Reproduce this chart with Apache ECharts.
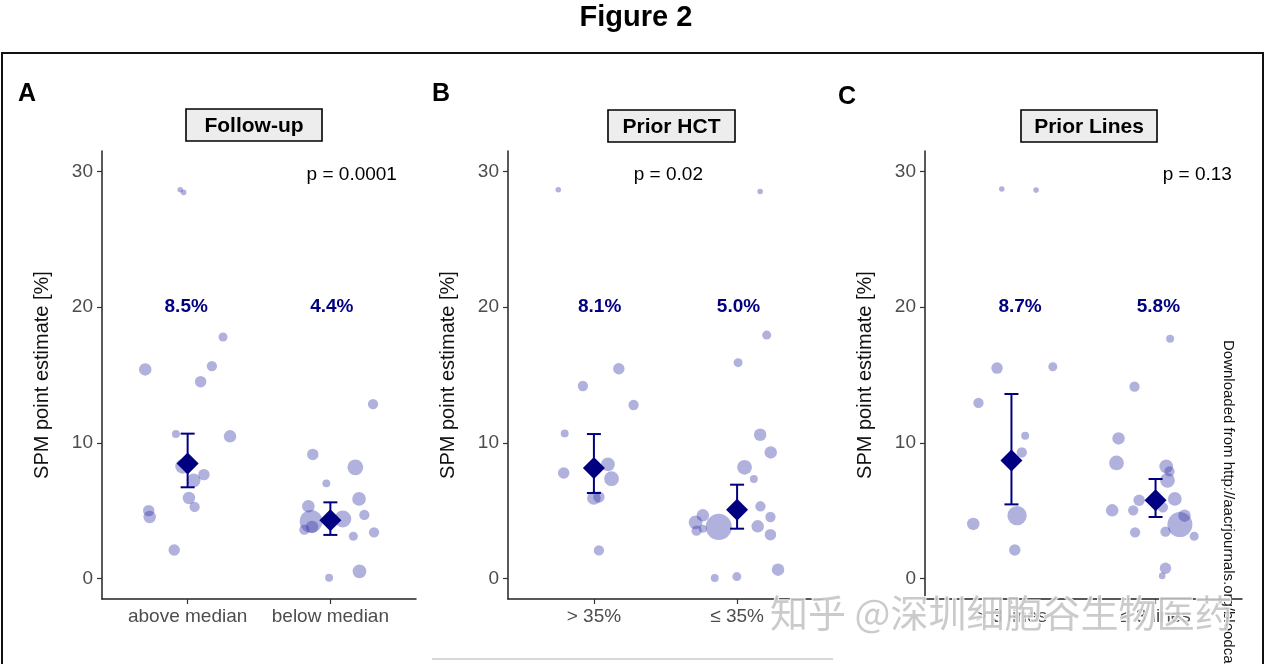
<!DOCTYPE html>
<html>
<head>
<meta charset="utf-8">
<script src="https://cdn.jsdelivr.net/npm/echarts@6/dist/echarts.min.js"></script>
<style>html,body{margin:0;padding:0;background:#fff;}#c{width:1272px;height:664px;}</style>
</head>
<body>
<div id="c"></div>
<script>
// ---------- data ----------
const catsA = ['above median', 'below median'];
const catsB = ['> 35%', '\u2264 35%'];
const catsC = ['> 3 lines', '\u2264 3 lines'];
const yTicks = [0, 10, 20, 30];

// points: [jittered x position, SPM estimate %, weight n]
const ptsA1 = [[0.948,28.64,5],[0.972,28.45,5],[0.703,15.41,25],[1.248,17.80,13],[1.170,15.66,17],[1.091,14.51,21],[0.918,10.65,10],[1.297,10.48,25],[0.965,8.27,35],[1.042,7.24,30],[1.114,7.66,21],[1.009,5.94,25],[1.049,5.28,17],[0.727,5.01,21],[0.734,4.54,25],[0.906,2.11,21]];
const ptsA2 = [[1.877,9.15,21],[2.175,8.20,40],[2.299,12.86,17],[1.972,7.02,10],[2.201,5.87,30],[1.846,5.33,25],[2.238,4.69,17],[1.865,4.22,83],[2.087,4.40,46],[1.818,3.61,17],[1.872,3.81,25],[2.306,3.41,17],[2.161,3.12,13],[2.204,0.54,30],[1.991,0.07,10]];
const ptsB1 = [[0.751,28.64,5],[1.174,15.46,21],[0.923,14.19,17],[1.277,12.79,17],[0.796,10.70,10],[1.098,8.42,30],[0.789,7.78,21],[1.123,7.36,35],[1.000,5.94,30],[1.035,6.01,21],[1.035,2.08,17]];
const ptsB2 = [[2.161,28.52,5],[2.207,17.94,13],[2.007,15.91,13],[2.161,10.60,25],[2.235,9.30,25],[2.052,8.20,35],[2.117,7.34,10],[2.163,5.33,17],[2.233,4.54,17],[2.144,3.85,25],[2.233,3.24,21],[1.761,4.66,25],[1.710,4.15,30],[1.717,3.53,17],[1.761,3.68,10],[1.872,3.81,109],[2.286,0.66,25],[1.844,0.05,10],[1.998,0.15,13]];
const ptsC1 = [[0.933,28.70,5],[1.171,28.62,5],[0.900,15.51,21],[1.287,15.61,13],[0.771,12.94,17],[1.095,10.53,10],[1.072,9.30,17],[1.039,4.64,60],[0.735,4.03,25],[1.023,2.11,21]];
const ptsC2 = [[2.101,17.67,10],[1.854,14.14,17],[1.743,10.33,25],[1.729,8.52,35],[2.074,8.27,30],[2.097,7.90,17],[2.083,7.24,35],[2.134,5.87,30],[1.886,5.77,21],[1.699,5.03,25],[1.845,5.03,17],[2.051,5.25,17],[2.201,4.64,25],[2.169,3.98,100],[1.858,3.41,17],[2.069,3.46,17],[2.268,3.12,13],[2.069,0.76,21],[2.046,0.20,7]];

// pooled estimates with confidence intervals
const meanA = [8.49, 4.30], loA = [6.73, 3.22], hiA = [10.68, 5.62];
const meanB = [8.15, 5.08], loB = [6.31, 3.68], hiB = [10.65, 6.92];
const meanC = [8.71, 5.77], loC = [5.47, 4.54], hiC = [13.60, 7.34];

const pctA = ['8.5%', '4.4%'], pctXA = [0.99, 2.01];
const pctB = ['8.1%', '5.0%'], pctXB = [1.04, 2.01];
const pctC = ['8.7%', '5.8%'], pctXC = [1.06, 2.02];
const pctY = 20;

const pA = 'p = 0.0001', pXA = 2.15;
const pB = 'p = 0.02', pXB = 1.52;
const pC = 'p = 0.13', pXC = 2.29;
const pY = 29.75;

const titles = ['Follow-up', 'Prior HCT', 'Prior Lines'];
const letters = ['A', 'B', 'C'];

// ---------- chart ----------
const FONT = '"Liberation Sans", Arial, sans-serif';
const NAVY = '#000080';
const PT = 'rgba(50,50,165,0.38)';

const panels = [
  {cats: catsA, pts: ptsA1.concat(ptsA2), mean: meanA, lo: loA, hi: hiA, pct: pctA, pctX: pctXA, p: pA, pX: pXA},
  {cats: catsB, pts: ptsB1.concat(ptsB2), mean: meanB, lo: loB, hi: hiB, pct: pctB, pctX: pctXB, p: pB, pX: pXB},
  {cats: catsC, pts: ptsC1.concat(ptsC2), mean: meanC, lo: loC, hi: hiC, pct: pctC, pctX: pctXC, p: pC, pX: pXC}
];
const gridPos = [
  {left: 102, top: 151, width: 314, height: 448},
  {left: 508, top: 151, width: 315, height: 448},
  {left: 925, top: 151, width: 317, height: 448}
];

const grids = [], xAxes = [], yAxes = [], series = [];
panels.forEach((P, i) => {
  grids.push(Object.assign({containLabel: false}, gridPos[i]));
  xAxes.push({
    type: 'value', gridIndex: i, min: 0.4, max: 2.6,
    splitLine: {show: false},
    axisLine: {show: true, onZero: false, lineStyle: {color: '#222', width: 1.5}},
    axisTick: {show: true, customValues: [1, 2], length: 5, lineStyle: {color: '#333', width: 1.2}},
    axisLabel: {customValues: [1, 2], formatter: v => P.cats[Math.round(v) - 1], color: '#4d4d4d', fontSize: 19, fontFamily: FONT, margin: 8}
  });
  yAxes.push({
    type: 'value', gridIndex: i, min: -1.5, max: 31.5,
    splitLine: {show: false},
    axisLine: {show: true, onZero: false, lineStyle: {color: '#222', width: 1.5}},
    axisTick: {show: true, customValues: yTicks, length: 5, lineStyle: {color: '#333', width: 1.2}},
    axisLabel: {customValues: yTicks, color: '#4d4d4d', fontSize: 19, fontFamily: FONT, margin: 9},
    name: 'SPM point estimate [%]', nameLocation: 'middle', nameGap: 50,
    nameTextStyle: {color: '#111', fontSize: 20, fontFamily: FONT}
  });
  series.push({
    type: 'scatter', xAxisIndex: i, yAxisIndex: i, silent: true,
    data: P.pts,
    symbolSize: v => 2.5 * Math.sqrt(v[2]),
    itemStyle: {color: PT, borderWidth: 0, opacity: 1},
    z: 2
  });
  series.push({
    type: 'custom', xAxisIndex: i, yAxisIndex: i, silent: true, z: 3,
    data: P.mean.map((m, k) => [k + 1, P.lo[k], P.hi[k]]),
    renderItem: (params, api) => {
      const top = api.coord([api.value(0), api.value(2)]);
      const bot = api.coord([api.value(0), api.value(1)]);
      const hw = 7;
      const st = {stroke: NAVY, lineWidth: 2};
      return {type: 'group', children: [
        {type: 'line', shape: {x1: top[0], y1: top[1], x2: bot[0], y2: bot[1]}, style: st},
        {type: 'line', shape: {x1: top[0] - hw, y1: top[1], x2: top[0] + hw, y2: top[1]}, style: st},
        {type: 'line', shape: {x1: bot[0] - hw, y1: bot[1], x2: bot[0] + hw, y2: bot[1]}, style: st}
      ]};
    }
  });
  series.push({
    type: 'scatter', xAxisIndex: i, yAxisIndex: i, silent: true, z: 4,
    data: P.mean.map((m, k) => [k + 1, m]),
    symbol: 'diamond', symbolSize: 22,
    itemStyle: {color: NAVY, opacity: 1}
  });
  series.push({
    type: 'scatter', xAxisIndex: i, yAxisIndex: i, silent: true, z: 5,
    data: P.pct.map((t, k) => ({value: [P.pctX[k], pctY], name: t})),
    symbolSize: 1, itemStyle: {color: 'rgba(0,0,0,0)', opacity: 1},
    label: {show: true, position: 'inside', formatter: p => p.name, color: NAVY, fontWeight: 'bold', fontSize: 19, fontFamily: FONT, opacity: 1}
  });
  series.push({
    type: 'scatter', xAxisIndex: i, yAxisIndex: i, silent: true, z: 5,
    data: [{value: [P.pX, pY], name: P.p}],
    symbolSize: 1, itemStyle: {color: 'rgba(0,0,0,0)', opacity: 1},
    label: {show: true, position: 'inside', formatter: p => p.name, color: '#000', fontSize: 19, fontFamily: FONT, opacity: 1}
  });
});

// decorations
const boxPos = [[186, 109, 136], [608, 110, 127], [1021, 110, 136]];
const letterPos = [[18, 94], [432, 94], [838, 97]];
const graphic = [
  {type: 'text', left: 'center', top: 3, style: {text: 'Figure 2', font: 'bold 29px ' + FONT, fill: '#000'}},
  {type: 'rect', shape: {x: 2, y: 53, width: 1261, height: 640}, style: {fill: 'none', stroke: '#111', lineWidth: 2}, z: 10},
  {type: 'line', shape: {x1: 432, y1: 659, x2: 833, y2: 659}, style: {stroke: '#b0b0b0', lineWidth: 1}},
  {type: 'text', x: 1228, y: 340, rotation: -Math.PI / 2, style: {text: 'Downloaded from http://aacrjournals.org/bloodcancerdiscov/article-pdf/', font: '15px ' + FONT, fill: '#111', textAlign: 'left', textVerticalAlign: 'middle'}, z: 20}
];
titles.forEach((t, i) => {
  const b = boxPos[i];
  graphic.push({type: 'rect', shape: {x: b[0], y: b[1], width: b[2], height: 32}, style: {fill: '#ededed', stroke: '#000', lineWidth: 1.6}});
  graphic.push({type: 'text', x: b[0] + b[2] / 2, y: b[1] + 17, style: {text: t, font: 'bold 21px ' + FONT, fill: '#000', textAlign: 'center', textVerticalAlign: 'middle'}});
  graphic.push({type: 'text', x: letterPos[i][0], y: letterPos[i][1], style: {text: letters[i], font: 'bold 25px ' + FONT, fill: '#000', textAlign: 'left', textVerticalAlign: 'middle'}});
});
graphic.push({type: 'text', x: 770, y: 613, z: 30, style: {text: '\u77e5\u4e4e @\u6df1\u5733\u7ec6\u80de\u8c37\u751f\u7269\u533b\u836f', font: '38px "Noto Sans CJK SC", sans-serif', fill: 'rgba(190,190,190,0.8)', stroke: 'rgba(255,255,255,0.9)', lineWidth: 2, textAlign: 'left', textVerticalAlign: 'middle'}});

const chart = echarts.init(document.getElementById('c'), null, {renderer: 'canvas'});
chart.setOption({
  animation: false,
  backgroundColor: '#fff',
  grid: grids, xAxis: xAxes, yAxis: yAxes, series: series,
  graphic: graphic
});
</script>
</body>
</html>
